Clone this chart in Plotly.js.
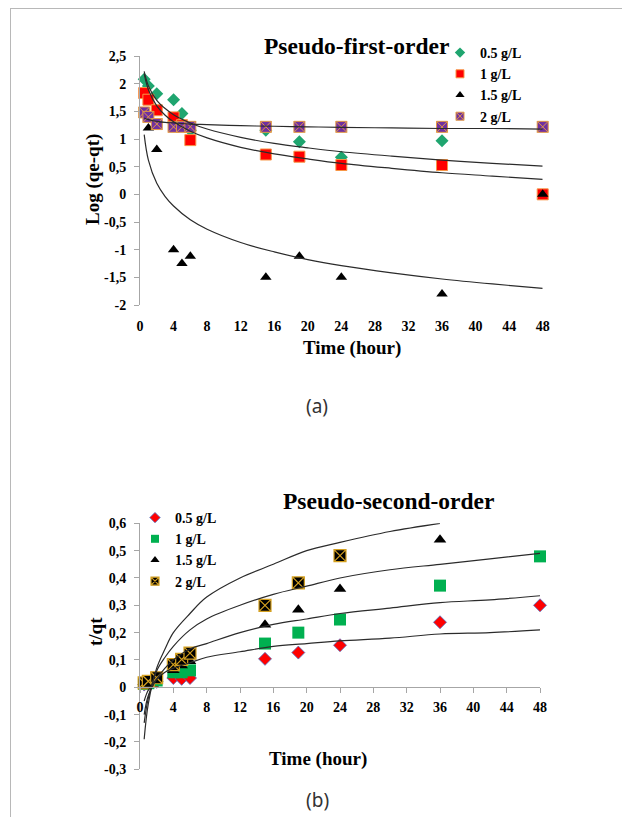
<!DOCTYPE html>
<html>
<head>
<meta charset="utf-8">
<script src="https://cdn.plot.ly/plotly-3.0.1.min.js"></script>
<style>
  html, body { margin: 0; padding: 0; background: #ffffff; }
  #frame { position: absolute; left: 10px; top: 8px; width: 720px; height: 900px;
           border-left: 1px solid #b8b8b8; border-top: 1px solid #b8b8b8; }
  #chart { position: absolute; left: 0; top: 0; width: 622px; height: 817px; }
</style>
</head>
<body>
<div id="frame"></div>
<div id="chart"></div>
<script>
// ---------- shared axis ticks ----------
const timeTicks = [0, 4, 8, 12, 16, 20, 24, 28, 32, 36, 40, 44, 48];
const timeTickText = ['0', '4', '8', '12', '16', '20', '24', '28', '32', '36', '40', '44', '48'];

// ---------- (a) pseudo-first-order: log(qe - qt) ----------
const logTicks = [-2, -1.5, -1, -0.5, 0, 0.5, 1, 1.5, 2, 2.5];
const logTickText = ['-2', '-1,5', '-1', '-0,5', '0', '0,5', '1', '1,5', '2', '2,5'];

const tA_05 = [0.5, 1, 2, 4, 5, 6, 15, 19, 24, 36];
const logA_05 = [2.08, 1.96, 1.82, 1.71, 1.46, 1.16, 1.16, 0.95, 0.67, 0.97];
const tA_1 = [0.5, 1, 2, 4, 5, 6, 15, 19, 24, 36, 48];
const logA_1 = [1.83, 1.71, 1.52, 1.39, 1.25, 0.98, 0.72, 0.68, 0.53, 0.53, 0];
const tA_15 = [1, 2, 4, 5, 6, 15, 19, 24, 36, 48];
const logA_15 = [1.20, 0.81, -1.00, -1.25, -1.12, -1.50, -1.12, -1.50, -1.80, 0];
const tA_2 = [0.5, 1, 2, 4, 5, 6, 15, 19, 24, 36, 48];
const logA_2 = [1.48, 1.40, 1.27, 1.22, 1.22, 1.22, 1.22, 1.22, 1.22, 1.22, 1.22];

// fitted trend curves, sampled along the time axis
const tFitA = [0.5, 1, 2, 3, 4, 6, 8, 12, 16, 20, 24, 30, 36, 42, 48];
const fitA_05 = [2.22, 1.96, 1.70, 1.55, 1.44, 1.29, 1.18, 1.03, 0.92, 0.84, 0.77, 0.69, 0.62, 0.56, 0.51];
const fitA_1 = [2.18, 1.89, 1.60, 1.43, 1.31, 1.14, 1.02, 0.85, 0.73, 0.64, 0.56, 0.47, 0.39, 0.33, 0.27];
const fitA_15 = [1.08, 0.62, 0.20, -0.04, -0.21, -0.46, -0.63, -0.87, -1.04, -1.18, -1.29, -1.42, -1.53, -1.62, -1.70];
const fitA_2 = [1.38, 1.35, 1.32, 1.30, 1.29, 1.27, 1.26, 1.24, 1.23, 1.22, 1.21, 1.20, 1.19, 1.19, 1.18];

// ---------- (b) pseudo-second-order: t/qt ----------
const ratioTicks = [-0.3, -0.2, -0.1, 0, 0.1, 0.2, 0.3, 0.4, 0.5, 0.6];
const ratioTickText = ['-0,3', '-0,2', '-0,1', '0', '0,1', '0,2', '0,3', '0,4', '0,5', '0,6'];

const tB_05 = [0.5, 1, 2, 4, 5, 6, 15, 19, 24, 36, 48];
const rB_05 = [0.010, 0.012, 0.020, 0.034, 0.031, 0.034, 0.104, 0.127, 0.154, 0.238, 0.300];
const tB_1 = [0.5, 1, 2, 4, 5, 6, 15, 19, 24, 36, 48];
const rB_1 = [0.012, 0.015, 0.025, 0.055, 0.055, 0.062, 0.160, 0.200, 0.248, 0.372, 0.479];
const tB_15 = [0.5, 1, 2, 4, 5, 6, 15, 19, 24, 36];
const rB_15 = [0.014, 0.020, 0.030, 0.062, 0.080, 0.095, 0.229, 0.284, 0.360, 0.540];
const tB_2 = [0.5, 1, 2, 4, 5, 6, 15, 19, 24];
const rB_2 = [0.016, 0.022, 0.035, 0.083, 0.102, 0.125, 0.300, 0.382, 0.482];

const tFitB = [0.5, 1, 2, 3, 4, 6, 8, 12, 16, 20, 24, 30, 36, 42, 48];
const tFitB_short = [0.5, 1, 2, 3, 4, 6, 8, 12, 16, 20, 24, 30, 36];
const fitB_c1 = [-0.19, -0.06, 0.07, 0.14, 0.20, 0.27, 0.33, 0.40, 0.45, 0.50, 0.53, 0.57, 0.60];
const fitB_c2 = [-0.13, -0.04, 0.06, 0.11, 0.15, 0.21, 0.25, 0.30, 0.34, 0.37, 0.40, 0.43, 0.45, 0.47, 0.49];
const fitB_c3 = [-0.10, -0.03, 0.03, 0.07, 0.10, 0.14, 0.16, 0.20, 0.23, 0.25, 0.27, 0.29, 0.31, 0.32, 0.335];
const fitB_c4 = [-0.05, -0.01, 0.03, 0.055, 0.07, 0.09, 0.11, 0.13, 0.15, 0.16, 0.17, 0.18, 0.195, 0.20, 0.21];

const seriesNames = ['0.5 g/L', '1 g/L', '1.5 g/L', '2 g/L'];

// ---------- styling ----------
const SERIF = '"Liberation Serif", "Times New Roman", serif';
const AXIS_GREY = '#a6a6a6';
const FIT_COLOR = '#2b2b2b';

const styleA = [
  { symbol: 'diamond', color: '#1FA56F', line: { color: '#1FA56F', width: 0 } },
  { symbol: 'square', color: '#FF0000', line: { color: '#F79646', width: 1 } },
  { symbol: 'triangle-up', color: '#000000', line: { color: '#000000', width: 0 } },
  { symbol: 'square-x', color: '#7030A0', line: { color: '#E39A45', width: 1 } }
];
const sizeA = [10, 11, 10, 11];
const styleB = [
  { symbol: 'diamond', color: '#FF0000', line: { color: '#4F6FC0', width: 0.8 } },
  { symbol: 'square', color: '#00B050', line: { color: '#00B050', width: 0 } },
  { symbol: 'triangle-up', color: '#000000', line: { color: '#000000', width: 0 } },
  { symbol: 'square-x', color: '#000000', line: { color: '#D4A020', width: 1.2 } }
];
const sizeB = [10, 12, 11, 12];

function pts(x, y, st, size, xa, ya) {
  return { type: 'scatter', mode: 'markers', x: x, y: y, xaxis: xa, yaxis: ya,
           showlegend: false, cliponaxis: false, hoverinfo: 'skip',
           marker: Object.assign({ size: size }, st) };
}
function fit(x, y, xa, ya) {
  return { type: 'scatter', mode: 'lines', x: x, y: y, xaxis: xa, yaxis: ya,
           showlegend: false, hoverinfo: 'skip',
           line: { color: FIT_COLOR, width: 1.2, shape: 'spline', smoothing: 1 } };
}
function key(name, st, legendId) {
  return { type: 'scatter', mode: 'markers', x: [null], y: [null], name: name,
           legend: legendId, xaxis: legendId === 'legend' ? 'x' : 'x2',
           yaxis: legendId === 'legend' ? 'y' : 'y2',
           marker: Object.assign({ size: 8 }, st) };
}

const traces = [
  pts(tA_05, logA_05, styleA[0], sizeA[0], 'x', 'y'),
  pts(tA_1, logA_1, styleA[1], sizeA[1], 'x', 'y'),
  pts(tA_15, logA_15, styleA[2], sizeA[2], 'x', 'y'),
  pts(tA_2, logA_2, styleA[3], sizeA[3], 'x', 'y'),
  fit(tFitA, fitA_05, 'x', 'y'),
  fit(tFitA, fitA_1, 'x', 'y'),
  fit(tFitA, fitA_15, 'x', 'y'),
  fit(tFitA, fitA_2, 'x', 'y'),

  pts(tB_05, rB_05, styleB[0], sizeB[0], 'x2', 'y2'),
  pts(tB_1, rB_1, styleB[1], sizeB[1], 'x2', 'y2'),
  pts(tB_15, rB_15, styleB[2], sizeB[2], 'x2', 'y2'),
  pts(tB_2, rB_2, styleB[3], sizeB[3], 'x2', 'y2'),
  fit(tFitB_short, fitB_c1, 'x2', 'y2'),
  fit(tFitB, fitB_c2, 'x2', 'y2'),
  fit(tFitB, fitB_c3, 'x2', 'y2'),
  fit(tFitB, fitB_c4, 'x2', 'y2')
];
seriesNames.forEach((n, i) => traces.push(key(n, styleA[i], 'legend')));
seriesNames.forEach((n, i) => traces.push(key(n, styleB[i], 'legend2')));

// ---------- geometry (page is 622 x 817) ----------
const W = 622, H = 817;
const px = v => v / W;
const py = v => 1 - v / H;

const domXA = [px(140), px(542.7)];
const domYA = [py(305), py(56)];
const domXB = [px(140), px(540)];
const domYB = [py(769.3), py(523.3)];
// paper height of the value 0 on each vertical axis
const zeroA = domYA[0] + (0 - (-2)) / 4.5 * (domYA[1] - domYA[0]);
const zeroB = domYB[0] + (0 - (-0.3)) / 0.9 * (domYB[1] - domYB[0]);

const tickFont = { family: SERIF, size: 14, color: '#000000', weight: 'bold' };
const legendFont = { family: SERIF, size: 14, color: '#000000', weight: 'bold' };

function label(text, x, y, font, angle) {
  return { text: text, x: px(x), y: py(y), xref: 'paper', yref: 'paper',
           xanchor: 'center', yanchor: 'middle', textangle: angle || 0,
           showarrow: false, font: font };
}
const titleFont = { family: SERIF, size: 23.5, color: '#000000', weight: 'bold' };
const axisTitleFont = { family: SERIF, size: 19, color: '#000000', weight: 'bold' };
const capFont = { family: '"Noto Sans", sans-serif', size: 19, color: '#333333' };

const layout = {
  width: W, height: H,
  margin: { l: 0, r: 0, t: 0, b: 0 },
  paper_bgcolor: 'rgba(0,0,0,0)', plot_bgcolor: 'rgba(0,0,0,0)',
  showlegend: true,
  // (a) labels along the bottom edge
  xaxis: { domain: domXA, range: [0, 48], anchor: 'y', showgrid: false, zeroline: false,
           showline: false, tickvals: timeTicks, ticktext: timeTickText, ticks: 'outside',
           ticklen: 8, tickcolor: 'rgba(0,0,0,0)', tickfont: tickFont, fixedrange: true },
  // (a) axis line through log = 0, ticks pointing up
  xaxis3: { domain: domXA, range: [0, 48], overlaying: 'x', anchor: 'free', position: zeroA,
            showgrid: false, zeroline: false, showline: true, linecolor: AXIS_GREY, linewidth: 1,
            tickvals: timeTicks, ticks: 'inside', ticklen: 5, tickcolor: AXIS_GREY,
            showticklabels: false, fixedrange: true },
  yaxis: { domain: domYA, range: [-2, 2.5], anchor: 'x', showgrid: false, zeroline: false,
           showline: true, linecolor: AXIS_GREY, linewidth: 1, tickvals: logTicks,
           ticktext: logTickText, ticks: 'outside', ticklen: 5, tickcolor: AXIS_GREY,
           ticklabelstandoff: 5, tickfont: tickFont, fixedrange: true },
  // (b) axis through t/qt = 0, labels directly below it
  xaxis2: { domain: domXB, range: [0, 48], anchor: 'free', position: zeroB, showgrid: false,
            zeroline: false, showline: true, linecolor: AXIS_GREY, linewidth: 1,
            tickvals: timeTicks, ticktext: timeTickText, ticks: 'outside', ticklen: 5,
            tickcolor: AXIS_GREY, ticklabelstandoff: 2, tickfont: tickFont, fixedrange: true },
  yaxis2: { domain: domYB, range: [-0.3, 0.6], anchor: 'x2', showgrid: false, zeroline: false,
            showline: true, linecolor: AXIS_GREY, linewidth: 1, tickvals: ratioTicks,
            ticktext: ratioTickText, ticks: 'outside', ticklen: 5, tickcolor: AXIS_GREY,
            ticklabelstandoff: 5, tickfont: tickFont, fixedrange: true },
  legend: { x: px(440), y: py(37), xanchor: 'left', yanchor: 'top', bgcolor: 'rgba(0,0,0,0)',
            font: legendFont, tracegroupgap: 0, itemclick: false, itemdoubleclick: false },
  legend2: { x: px(135), y: py(502), xanchor: 'left', yanchor: 'top', bgcolor: 'rgba(0,0,0,0)',
             font: legendFont, tracegroupgap: 0, itemclick: false, itemdoubleclick: false },
  annotations: [
    label('Pseudo-first-order', 356, 46, titleFont),
    label('Pseudo-second-order', 388, 501, titleFont),
    label('Time (hour)', 352, 348, axisTitleFont),
    label('Time (hour)', 318, 759, axisTitleFont),
    label('Log (qe-qt)', 93, 180, axisTitleFont, -90),
    label('t/qt', 95, 632, axisTitleFont, -90),
    label('(a)', 317, 406, capFont),
    label('(b)', 317, 800, capFont)
  ]
};

Plotly.newPlot('chart', traces, layout, { staticPlot: true, displayModeBar: false });
</script>
</body>
</html>
